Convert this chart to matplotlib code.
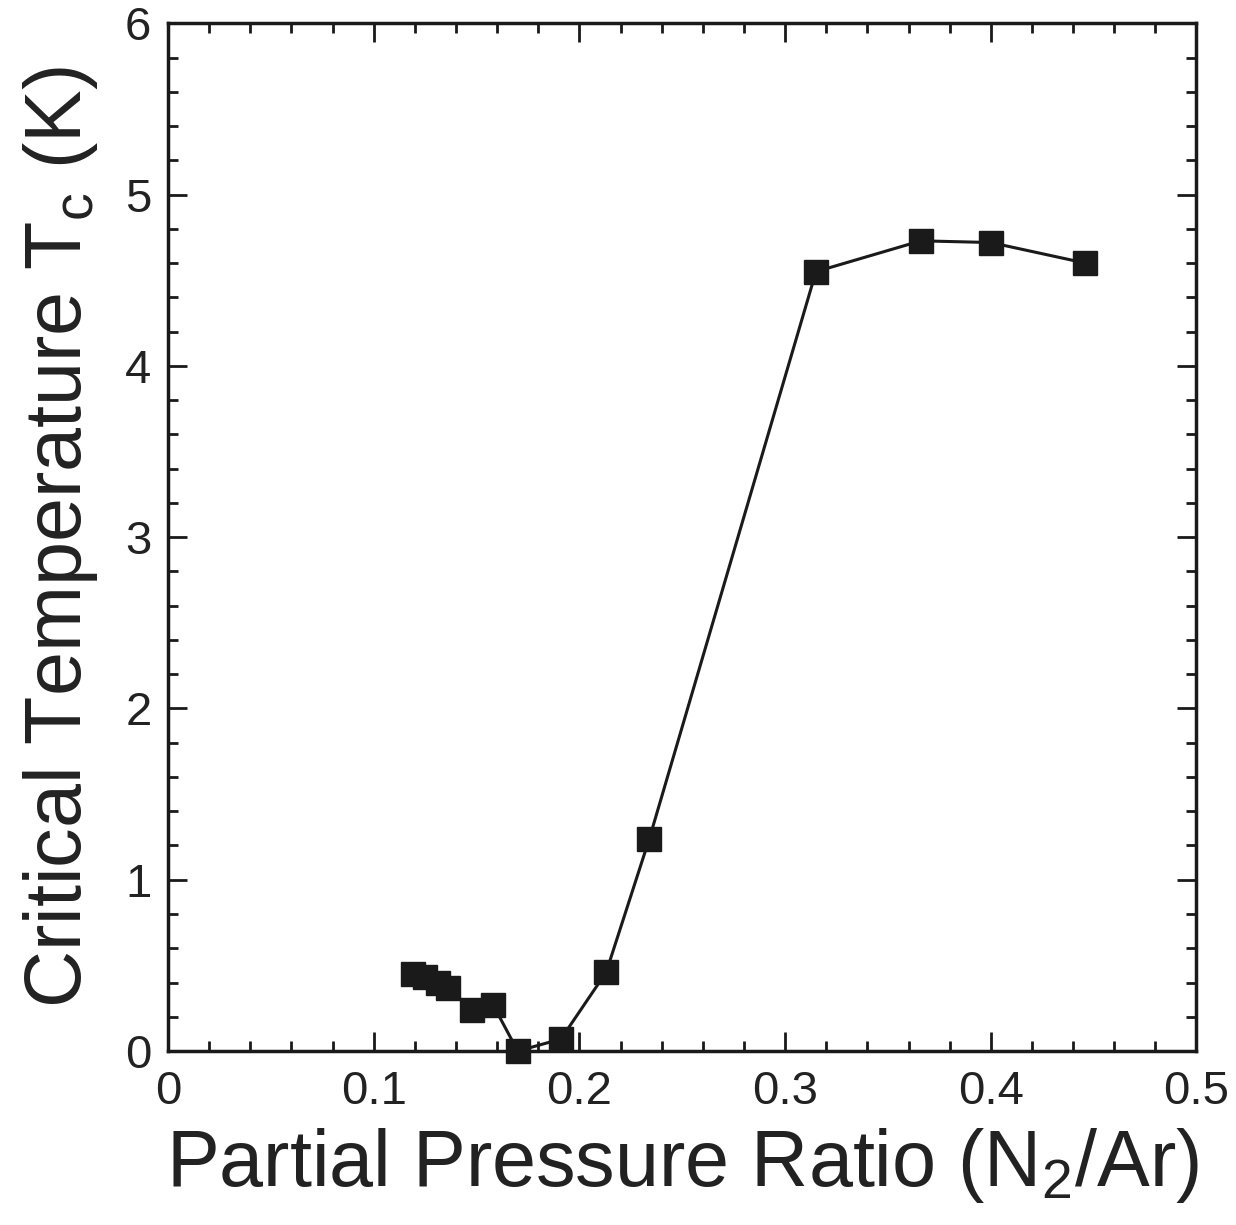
import numpy as np
from matplotlib import pyplot as plt
from matplotlib.ticker import MultipleLocator, FuncFormatter

plt.rcParams['font.family'] = ['Liberation Sans', 'DejaVu Sans']
plt.rcParams['mathtext.fontset'] = 'custom'
plt.rcParams['mathtext.rm'] = 'Liberation Sans'

ratio = [0.119, 0.125, 0.131, 0.136, 0.148, 0.158, 0.170, 0.191,
         0.213, 0.234, 0.315, 0.366, 0.400, 0.446]
tc = [0.45, 0.43, 0.40, 0.37, 0.24, 0.27, 0.00, 0.07,
      0.46, 1.24, 4.55, 4.73, 4.72, 4.60]

ink = '#1a1a1a'

fig = plt.figure(figsize=(12.36, 12.25), dpi=100)
ax = fig.add_axes([0.136, 0.142, 0.832, 0.839])

ax.plot(ratio, tc, '-', color=ink, lw=2.2, marker='s', ms=17,
        mfc=ink, mec=ink, clip_on=False, zorder=3)

ax.set_xlim(0, 0.5)
ax.set_ylim(0, 6)
ax.xaxis.set_major_locator(MultipleLocator(0.1))
ax.xaxis.set_minor_locator(MultipleLocator(0.02))
ax.yaxis.set_major_locator(MultipleLocator(1))
ax.yaxis.set_minor_locator(MultipleLocator(0.2))
ax.xaxis.set_major_formatter(FuncFormatter(lambda v, p: '0' if abs(v) < 1e-9 else f'{v:.1f}'))
ax.yaxis.set_major_formatter(FuncFormatter(lambda v, p: f'{v:.0f}'))

ax.tick_params(which='both', direction='in', top=True, right=True,
               colors=ink, labelcolor='#222222', width=2)
ax.tick_params(which='major', length=14, labelsize=34)
ax.tick_params(axis='x', which='major', pad=14)
ax.tick_params(axis='y', which='major', pad=12)
ax.tick_params(which='minor', length=7)
for s in ax.spines.values():
    s.set_linewidth(2.5)
    s.set_color(ink)

ax.set_xlabel('Partial Pressure Ratio (N$_\\mathregular{2}$/Ar)', fontsize=57,
              color='#222222', labelpad=8)
ax.set_ylabel('Critical Temperature T$_\\mathregular{c}$ (K)', fontsize=57,
              color='#222222', labelpad=18)

fig.savefig('out.png', dpi=100)
